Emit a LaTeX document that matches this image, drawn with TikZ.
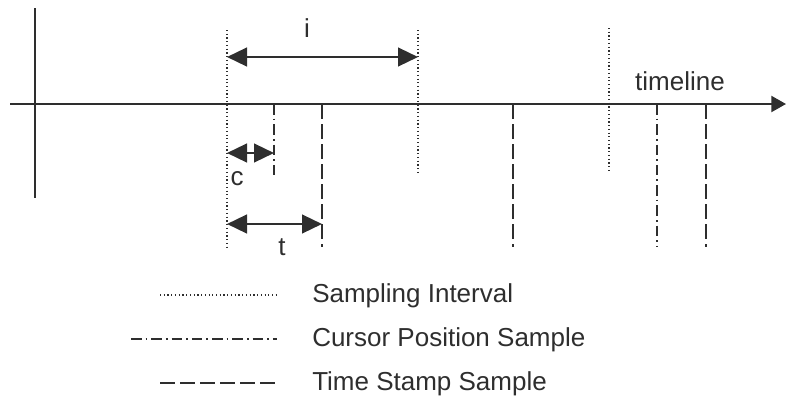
\documentclass[tikz,border=0pt]{standalone}
\usepackage{fontspec}
\setmainfont{Liberation Sans}
\usetikzlibrary{arrows.meta,positioning}
\definecolor{ink}{HTML}{2E2E2E}

\begin{document}
\begin{tikzpicture}[
        x=0.75pt, y=-0.75pt,
        font=\fontsize{19.5}{23}\selectfont, text=ink,
        axis/.style={draw=ink, line width=1.6pt},
        interval/.style={draw=ink, line width=1.6pt, dash pattern=on 0.9pt off 1.9pt},
        cursor/.style={draw=ink, line width=1.3pt, dash pattern=on 8pt off 3pt on 1.2pt off 3pt},
        stamp/.style={draw=ink, line width=1.3pt, dash pattern=on 11pt off 4pt},
        span/.style={{Triangle[length=15pt,width=14pt]}-{Triangle[length=15pt,width=14pt]}, draw=ink, fill=ink, line width=1.8pt},
        label/.style={inner sep=0pt, anchor=base}
    ]
    \useasboundingbox (0,0) rectangle (794,404);

    % Axes
    \coordinate (ytop) at (35,8);
    \coordinate (ybot) at (35,198);
    \coordinate (xleft) at (10,104);
    \coordinate (xright) at (786,104);
    \draw[axis] (ytop) -- (ybot);
    \draw[axis, -{Triangle[length=11pt,width=12pt]}] (xleft) -- (xright);
    \node[label] (timeline) at (680,90) {timeline};

    % Sampling intervals
    \coordinate (i1t) at (227,30);  \coordinate (i1b) at (227,248);
    \coordinate (i2t) at (418,30);  \coordinate (i2b) at (418,172);
    \coordinate (i3t) at (609,28);  \coordinate (i3b) at (609,172);
    \draw[interval] (i1t) -- (i1b);
    \draw[interval] (i2t) -- (i2b);
    \draw[interval] (i3t) -- (i3b);

    % Cursor position samples
    \coordinate (c1t) at (274,104); \coordinate (c1b) at (274,175);
    \coordinate (c2t) at (657,104); \coordinate (c2b) at (657,247);
    \draw[cursor] (c1t) -- (c1b);
    \draw[cursor] (c2t) -- (c2b);

    % Time stamp samples
    \coordinate (t1t) at (322,104); \coordinate (t1b) at (322,247);
    \coordinate (t2t) at (513,104); \coordinate (t2b) at (513,247);
    \coordinate (t3t) at (706,104); \coordinate (t3b) at (706,247);
    \draw[stamp] (t1t) -- (t1b);
    \draw[stamp] (t2t) -- (t2b);
    \draw[stamp] (t3t) -- (t3b);

    % Spans
    \coordinate (ia) at (227,57);  \coordinate (ib) at (418,57);
    \coordinate (ca) at (227,153); \coordinate (cb) at (274,153);
    \coordinate (ta) at (227,224); \coordinate (tb) at (322,224);
    \draw[span] (ia) -- (ib);
    \draw[span] (ca) -- (cb);
    \draw[span] (ta) -- (tb);
    \node[label] (ilabel) at (307,37) {i};
    \node[label] (clabel) at (237,185) {c};
    \node[label] (tlabel) at (282,255) {t};

    % Legend
    \coordinate (l1a) at (160,295); \coordinate (l1b) at (276,295);
    \coordinate (l2a) at (131,339); \coordinate (l2b) at (277,339);
    \coordinate (l3a) at (160,383); \coordinate (l3b) at (277,383);
    \draw[interval] (l1a) -- (l1b);
    \draw[cursor] (l2a) -- (l2b);
    \draw[stamp] (l3a) -- (l3b);
    \node[label, anchor=base west] (lint) at (312,302) {Sampling Interval};
    \node[label, anchor=base west] (lcur) at (312,346) {Cursor Position Sample};
    \node[label, anchor=base west] (lstamp) at (312,390) {Time Stamp Sample};

\end{tikzpicture}
\end{document}
